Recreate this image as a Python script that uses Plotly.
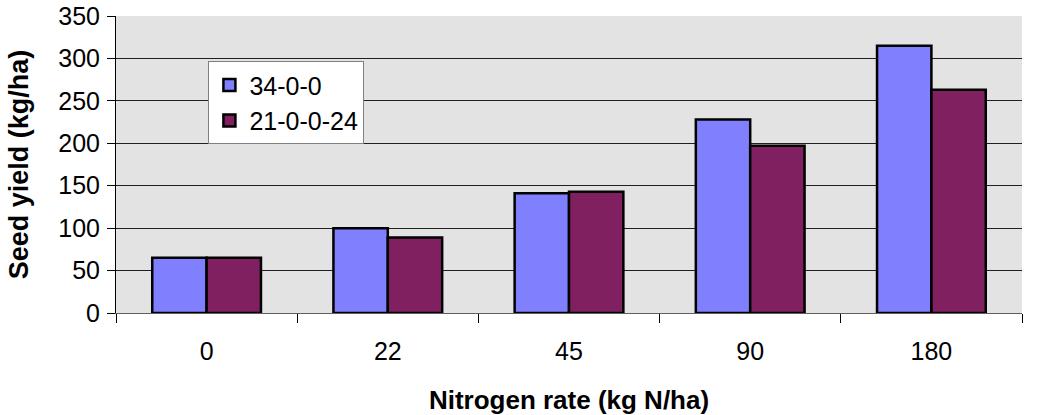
import plotly.graph_objects as go

categories = ["0", "22", "45", "90", "180"]
series_a = [65, 100, 141, 228, 315]
series_b = [65, 89, 143, 197, 263]
y_ticks = [0, 50, 100, 150, 200, 250, 300, 350]

FONT = "Liberation Sans, Arial"

fig = go.Figure()
fig.add_trace(go.Bar(x=categories, y=series_a, name="34-0-0", legendgroup="a",
                     marker=dict(color="#8080FF", line=dict(color="#000000", width=2.5))))
fig.add_trace(go.Bar(x=categories, y=series_b, name="21-0-0-24", legendgroup="b",
                     marker=dict(color="#802060", line=dict(color="#000000", width=2.5))))

fig.update_layout(
    width=1052, height=415,
    margin=dict(l=116, r=30, t=16, b=102),
    paper_bgcolor="white", plot_bgcolor="#E3E3E3",
    barmode="group", bargap=0.4, bargroupgap=0,
    font=dict(family=FONT, size=26, color="black"),
    legend=dict(x=0.102, y=0.848, xanchor="left", yanchor="top",
                bgcolor="white", bordercolor="#808080", borderwidth=1,
                font=dict(family=FONT, size=25, color="black"),
                tracegroupgap=0, itemwidth=30),
    showlegend=True,
)
fig.update_xaxes(type="category", tickson="boundaries", ticks="outside", ticklen=9,
                 tickcolor="black", showline=True, linecolor="#606060", linewidth=1,
                 tickfont=dict(family=FONT, size=25, color="black"),
                 ticklabelstandoff=16,
                 title=dict(text="<b>Nitrogen rate (kg N/ha)</b>", standoff=26,
                            font=dict(family=FONT, size=26, color="black")),
                 automargin=False, showgrid=False)
fig.update_yaxes(range=[0, 350], tickvals=y_ticks, ticks="outside", ticklen=8,
                 tickcolor="black", showline=True, linecolor="black", linewidth=1,
                 tickfont=dict(family=FONT, size=25, color="black"),
                 ticklabelstandoff=2,
                 gridcolor="#202020", gridwidth=1, zeroline=False,
                 title=dict(text="<b>Seed yield (kg/ha)</b>", standoff=21,
                            font=dict(family=FONT, size=27, color="black")),
                 automargin=False)

fig.write_html("out.html", config={"displayModeBar": False},
               post_script="document.body.style.margin='0px';")
